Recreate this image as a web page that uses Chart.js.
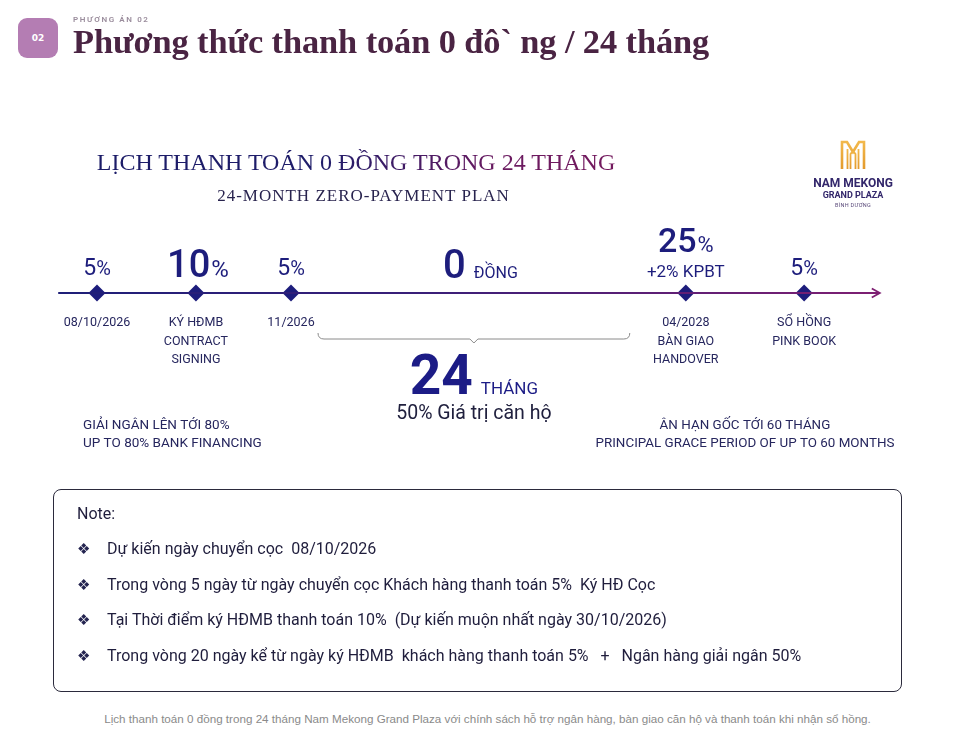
<!DOCTYPE html>
<html>
<head>
<meta charset="utf-8">
<script src="https://cdn.jsdelivr.net/npm/chart.js@4.4.1/dist/chart.umd.min.js"></script>
<style>
  html,body{margin:0;padding:0;background:#fff;}
  body{width:975px;height:741px;position:relative;overflow:hidden;font-family:Roboto,"Noto Sans",sans-serif;}
  #wrap{position:absolute;left:0;top:0;width:975px;height:586px;}
  .abs{position:absolute;white-space:nowrap;}
  #badge{left:18px;top:18px;width:40px;height:40px;border-radius:9px;background:#b47db3;color:#fff;font:bold 9px "DejaVu Sans",sans-serif;display:flex;align-items:center;justify-content:center;}
  #kicker{left:73px;top:15px;font:600 8px Roboto,sans-serif;letter-spacing:1.6px;color:#9a8c9c;}
  #htitle{left:73px;top:22px;font:bold 34.4px "Liberation Serif",serif;color:#4a2443;letter-spacing:-0.1px;}
  #t1{left:0;width:712px;top:149px;text-align:center;font:24px "Liberation Serif",serif;
      background:linear-gradient(90deg,#1a1b66 0%,#1f1d6a 45%,#6a1a60 70%,#7c1a5c 100%);-webkit-background-clip:text;background-clip:text;color:transparent;}
  #t2{left:0;width:727px;top:186px;text-align:center;font:17px "Liberation Serif",serif;color:#28234e;letter-spacing:1px;}
  #logo{left:800px;top:140px;width:106px;text-align:center;}
  #logo .n1{font:bold 12px Roboto,sans-serif;color:#33276b;line-height:13px;margin-top:3px;}
  #logo .n2{font:bold 9px Roboto,sans-serif;color:#33276b;line-height:11px;}
  #logo .n3{font:5.5px Roboto,sans-serif;color:#5a4a7a;line-height:9px;letter-spacing:0.3px;}
  #note{left:53px;top:489px;width:849px;height:203px;border:1.5px solid #2b2a3c;border-radius:8px;box-sizing:border-box;}
  .nt{position:absolute;font:16px Roboto,sans-serif;color:#1f1d3c;white-space:pre;}
  .bul{position:absolute;font:15px "DejaVu Sans",sans-serif;color:#242450;}
  #foot{left:0;width:975px;top:712px;text-align:center;font:11.65px "Liberation Sans",Arial,sans-serif;color:#8a8a8a;}
</style>
</head>
<body>
<div id="wrap"><canvas id="c" width="975" height="586" style="width:975px;height:586px"></canvas></div>

<div class="abs" id="badge">02</div>
<div class="abs" id="kicker">PHƯƠNG ÁN 02</div>
<div class="abs" id="htitle">Phương thức thanh toán 0 đô` ng / 24 tháng</div>

<div class="abs" id="t1">LỊCH THANH TOÁN 0 ĐỒNG TRONG 24 THÁNG</div>
<div class="abs" id="t2">24-MONTH ZERO-PAYMENT PLAN</div>

<div class="abs" id="logo">
  <svg width="26" height="30" viewBox="0 0 26 30">
    <defs><linearGradient id="g" x1="0" y1="0" x2="0" y2="1"><stop offset="0" stop-color="#f2b84b"/><stop offset="1" stop-color="#e39a2c"/></linearGradient></defs>
    <path d="M2 29 V2 H7 L13 12 L19 2 H24 V29" fill="none" stroke="url(#g)" stroke-width="2.6"/>
    <path d="M7.5 29 V9 M18.5 29 V9 M10.5 29 V14 Q13 10 15.5 14 V29" fill="none" stroke="url(#g)" stroke-width="1.8"/>
  </svg>
  <div class="n1">NAM MEKONG</div>
  <div class="n2">GRAND PLAZA</div>
  <div class="n3">BÌNH DƯƠNG</div>
</div>

<div class="abs" id="note"></div>

<div class="abs" id="foot">Lịch thanh toán 0 đồng trong 24 tháng Nam Mekong Grand Plaza với chính sách hỗ trợ ngân hàng, bàn giao căn hộ và thanh toán khi nhận sổ hồng.</div>

<script>
// ---------- data ----------
const milestonePos   = [1, 2.02, 3, 7.07, 8.29];     // position along the timeline
const paymentPct     = [5, 10, 5, 25, 5];            // % paid at each milestone
const paymentExtra   = ['', '', '', '+2% KPBT', ''];
const milestoneLabels = [
  ['08/10/2026'],
  ['KÝ HĐMB', 'CONTRACT', 'SIGNING'],
  ['11/2026'],
  ['04/2028', 'BÀN GIAO', 'HANDOVER'],
  ['SỔ HỒNG', 'PINK BOOK']
];
const timelineRange  = [0.6, 9.07];                  // arrow line start / end
const gapAmount      = '0';
const gapUnit        = 'ĐỒNG';
const gapMonths      = 24;
const gapMonthsUnit  = 'THÁNG';
const gapShare       = '50% Giá trị căn hộ';
const leftNote       = ['GIẢI NGÂN LÊN TỚI 80%', 'UP TO 80% BANK FINANCING'];
const rightNote      = ['ÂN HẠN GỐC TỚI 60 THÁNG', 'PRINCIPAL GRACE PERIOD OF UP TO 60 MONTHS'];
const noteTitle      = 'Note:';
const noteItems = [
  'Dự kiến ngày chuyển cọc  08/10/2026',
  'Trong vòng 5 ngày từ ngày chuyển cọc Khách hàng thanh toán 5%  Ký HĐ Cọc',
  'Tại Thời điểm ký HĐMB thanh toán 10%  (Dự kiến muộn nhất ngày 30/10/2026)',
  'Trong vòng 20 ngày kể từ ngày ký HĐMB  khách hàng thanh toán 5%   +   Ngân hàng giải ngân 50%'
];

// ---------- note box ----------
(function(){
  const box = document.getElementById('note');
  const t = document.createElement('div'); t.className='nt'; t.textContent = noteTitle;
  t.style.left='23px'; t.style.top='14px'; box.appendChild(t);
  noteItems.forEach((s,i)=>{
    const top = 49 + i*35.7;
    const b = document.createElement('div'); b.className='bul'; b.textContent='❖';
    b.style.left='23px'; b.style.top=(top+1)+'px'; box.appendChild(b);
    const d = document.createElement('div'); d.className='nt'; d.textContent=s;
    d.style.left='53px'; d.style.top=top+'px'; box.appendChild(d);
  });
})();

// ---------- chart ----------
const NAVY = '#1d1d7c';
const SANS = 'Roboto, "Noto Sans", sans-serif';

function txt(ctx, s, x, y, font, color, align){
  ctx.font = font; ctx.fillStyle = color; ctx.textAlign = align || 'center'; ctx.textBaseline = 'alphabetic';
  ctx.fillText(s, x, y);
}
function pair(ctx, a, fa, b, fb, cx, y, color, gap){
  ctx.font = fa; const wa = ctx.measureText(a).width;
  ctx.font = fb; const wb = ctx.measureText(b).width;
  const w = wa + gap + wb; const x0 = cx - w/2;
  txt(ctx, a, x0, y, fa, color, 'left');
  txt(ctx, b, x0 + wa + gap, y, fb, color, 'left');
}

const decor = {
  id: 'decor',
  beforeDatasetsDraw(chart){
    const {ctx, scales:{x}} = chart;
    const xs = x.getPixelForValue(timelineRange[0]), xe = x.getPixelForValue(timelineRange[1]);
    const g = ctx.createLinearGradient(xs, 0, xe, 0);
    g.addColorStop(0, '#1e1f78'); g.addColorStop(0.45, '#3a1f78'); g.addColorStop(1, '#7e1f72');
    const meta = chart.getDatasetMeta(0);
    if (meta.dataset) meta.dataset.options.borderColor = g;
  },
  afterDatasetsDraw(chart){
    const {ctx, scales:{x, y}} = chart;
    const y0 = y.getPixelForValue(0);
    const xe = x.getPixelForValue(timelineRange[1]);
    ctx.save();
    // arrow head
    ctx.strokeStyle = '#7e1f72'; ctx.lineWidth = 1.8;
    ctx.beginPath(); ctx.moveTo(xe-8, y0-4.5); ctx.lineTo(xe, y0); ctx.lineTo(xe-8, y0+4.5); ctx.stroke();

    milestonePos.forEach((p, i) => {
      const cx = x.getPixelForValue(p);
      const v = paymentPct[i];
      if (paymentExtra[i]) {
        pair(ctx, String(v), '500 34px '+SANS, '%', '22px '+SANS, cx, y0-41, NAVY, 1);
        txt(ctx, paymentExtra[i], cx, y0-16, '17px '+SANS, NAVY);
      } else if (v >= 10) {
        pair(ctx, String(v), '500 38px '+SANS, '%', '24px '+SANS, cx+2, y0-16, NAVY, 1);
      } else {
        pair(ctx, String(v), '23px '+SANS, '%', '20px '+SANS, cx, y0-18, NAVY, 0);
      }
      milestoneLabels[i].forEach((s, k) => {
        txt(ctx, s, cx, y0 + 33 + k*18.5, '12.5px '+SANS, '#26265e');
      });
    });

    // zero-payment period
    const a = x.getPixelForValue(milestonePos[2]), b = x.getPixelForValue(milestonePos[3]);
    const mid = (a + b) / 2;
    pair(ctx, gapAmount, '500 40px '+SANS, gapUnit, '16px '+SANS, mid-8, y0-15, NAVY, 8);

    // brace
    const bl = a + 27, br = b - 56, bm = (bl + br) / 2, by = y0 + 46;
    ctx.strokeStyle = '#8a8a8a'; ctx.lineWidth = 1;
    ctx.beginPath();
    ctx.moveTo(bl, by-6); ctx.quadraticCurveTo(bl, by, bl+6, by);
    ctx.lineTo(bm-4, by); ctx.lineTo(bm, by+4); ctx.lineTo(bm+4, by);
    ctx.lineTo(br-6, by); ctx.quadraticCurveTo(br, by, br, by-6);
    ctx.stroke();

    pair(ctx, String(gapMonths), 'bold 55px '+SANS, gapMonthsUnit, '17px '+SANS, bm, y0+101, '#1c1c86', 8);
    txt(ctx, gapShare, bm, y0+126, '19.5px '+SANS, '#20203e');

    leftNote.forEach((s, k) => txt(ctx, s, x.getPixelForValue(milestonePos[0]) - 14, y0 + 136 + k*17.5, '13.5px '+SANS, '#26265e', 'left'));
    const rc = (x.getPixelForValue(milestonePos[3]) + x.getPixelForValue(milestonePos[4])) / 2;
    rightNote.forEach((s, k) => txt(ctx, s, rc, y0 + 136 + k*17.5, '13.4px '+SANS, '#26265e'));
    ctx.restore();
  }
};

new Chart(document.getElementById('c'), {
  type: 'scatter',
  data: {
    datasets: [
      {
        type: 'line',
        data: timelineRange.map(v => ({x: v, y: 0})),
        borderColor: NAVY, borderWidth: 2, pointRadius: 0, fill: false
      },
      {
        data: milestonePos.map(v => ({x: v, y: 0})),
        pointStyle: 'rectRot', pointRadius: 8.5, pointHoverRadius: 8.5,
        backgroundColor: NAVY, borderColor: NAVY, borderWidth: 0
      }
    ]
  },
  options: {
    responsive: false, maintainAspectRatio: false, animation: false, devicePixelRatio: 1,
    layout: { padding: 0, autoPadding: false },
    plugins: { legend: { display: false }, tooltip: { enabled: false } },
    events: [],
    scales: {
      x: { type: 'linear', display: false, min: 0, max: 975/97 },
      y: { type: 'linear', display: false, min: -1, max: 1 }
    }
  },
  plugins: [decor]
});
</script>
</body>
</html>
